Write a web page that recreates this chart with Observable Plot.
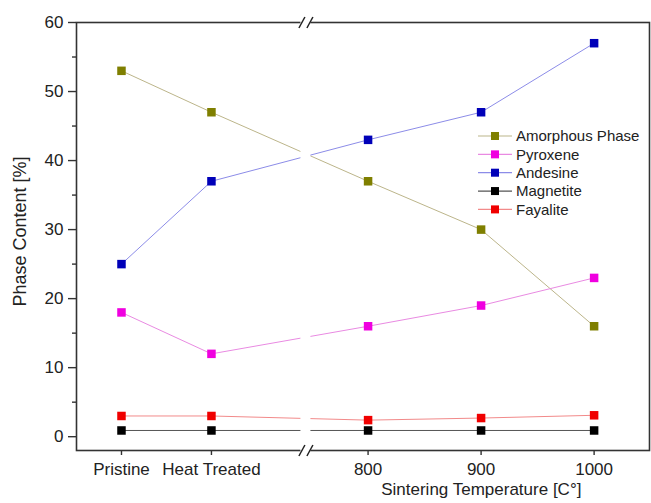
<!DOCTYPE html>
<html>
<head>
<meta charset="utf-8">
<script src="https://cdn.jsdelivr.net/npm/d3@7"></script>
<script src="https://cdn.jsdelivr.net/npm/@observablehq/plot@0.6"></script>
<style>
  body { margin: 0; background: #fff; font-family: "Liberation Sans", Arial, sans-serif; }
  #chart { position: relative; width: 651px; height: 503px; }
  #legend { position: absolute; left: 474px; top: 126px; }
</style>
</head>
<body>
<div id="chart"></div>
<script>
// Sample conditions along the (broken) x axis
const conditions = ["Pristine", "Heat Treated", "800", "900", "1000"];

// Phase content in % for each condition
const amorphous = [53, 47, 37, 30, 16];
const pyroxene  = [18, 12, 16, 19, 23];
const andesine  = [25, 37, 43, 47, 57];
const magnetite = [0.9, 0.9, 0.9, 0.9, 0.9];
const fayalite  = [3.0, 3.0, 2.4, 2.7, 3.1];

const seriesNames  = ["Amorphous Phase", "Pyroxene", "Andesine", "Magnetite", "Fayalite"];
const seriesValues = [amorphous, pyroxene, andesine, magnetite, fayalite];
const markerColors = ["#7f7f00", "#f000e0", "#0000b8", "#000000", "#f00000"];
const lineColors   = ["#bcb58a", "#e98ae2", "#8c8ce8", "#555555", "#f28a8a"];

const yTicks = [0, 10, 20, 30, 40, 50, 60];
const yMinorTicks = [5, 15, 25, 35, 45, 55];

// Broken x axis: treatments sit at unit steps on the left segment,
// sintering temperatures share one linear segment to the right of the break.
const treatments = conditions.slice(0, 2);
const BREAK = 3.05;          // axis position of the break
const T_AT_BREAK = 745;      // temperature that sits at the break
const DEG_PER_UNIT = 79.6;   // degrees per axis unit on the temperature segment
const X_MIN = 0.5;
const X_MAX = BREAK + (1049 - T_AT_BREAK) / DEG_PER_UNIT;
const Y_MIN = -2, Y_MAX = 60;

function axisPos(c) {
  const i = treatments.indexOf(c);
  return i >= 0 ? i + 1 : BREAK + (+c - T_AT_BREAK) / DEG_PER_UNIT;
}
const tickLabel = new Map(conditions.map(c => [axisPos(c), c]));

const rows = seriesNames.flatMap((name, s) =>
  conditions.map((c, i) => ({series: name, condition: c, value: seriesValues[s][i]}))
);

const W = 651, H = 503, mL = 76, mR = 2, mT = 22, mB = 53;
const pxX = (W - mL - mR) / (X_MAX - X_MIN);
const pxY = (H - mT - mB) / (Y_MAX - Y_MIN);
const gap = 5 / pxX;

// "//" break marks on the top and bottom edges of the frame
const slashes = [];
for (const edge of [Y_MAX, Y_MIN]) {
  for (const off of [-4, 4]) {
    slashes.push({
      x1: BREAK + (off - 3) / pxX, y1: edge - 5.5 / pxY,
      x2: BREAK + (off + 3) / pxX, y2: edge + 5.5 / pxY
    });
  }
}

const colorOf = new Map(seriesNames.map((n, i) => [n, markerColors[i]]));
const lineOf = new Map(seriesNames.map((n, i) => [n, lineColors[i]]));

const chart = Plot.plot({
  width: W, height: H,
  marginLeft: mL, marginRight: mR, marginTop: mT, marginBottom: mB,
  style: {fontFamily: "'Liberation Sans', Arial, sans-serif", fontSize: "17px", color: "#222", background: "#fff"},
  x: {domain: [X_MIN, X_MAX], axis: null},
  y: {domain: [Y_MIN, Y_MAX], axis: null},
  marks: [
    Plot.frame({stroke: "#333", strokeWidth: 1.6}),
    ...seriesNames.map(name =>
      Plot.line(rows.filter(d => d.series === name), {
        x: d => axisPos(d.condition), y: "value",
        stroke: lineOf.get(name), strokeWidth: 1
      })
    ),
    Plot.rect([0], {x1: BREAK - gap, x2: BREAK + gap, y1: Y_MIN, y2: Y_MAX,
      fill: "white", insetTop: -3, insetBottom: -3}),
    Plot.dot(rows, {
      x: d => axisPos(d.condition), y: "value",
      symbol: "square", r: 4.8, fill: d => colorOf.get(d.series), stroke: "none"
    }),
    Plot.link(slashes, {x1: "x1", y1: "y1", x2: "x2", y2: "y2", stroke: "#222", strokeWidth: 1.5}),
    Plot.axisY(yTicks, {anchor: "left", tickSize: 8, tickPadding: 5, label: null, stroke: "#333", strokeWidth: 1.4}),
    Plot.axisY(yMinorTicks, {anchor: "left", tickSize: 4, tickFormat: () => "", label: null, stroke: "#333", strokeWidth: 1.4}),
    Plot.axisX(conditions.map(axisPos), {
      anchor: "bottom", tickSize: 5, tickPadding: 7, label: null,
      tickFormat: v => tickLabel.get(v), stroke: "#333", strokeWidth: 1.4
    }),
    Plot.text(["Phase Content [%]"], {
      frameAnchor: "left", textAnchor: "middle", dx: -56, dy: -5, rotate: -90, fontSize: 18, fill: "#222"
    }),
    Plot.text(["Sintering Temperature [C°]"], {
      x: (BREAK + X_MAX) / 2 + 0.04, frameAnchor: "bottom",
      dy: 44, fontSize: 17, fill: "#222"
    })
  ]
});

const root = document.getElementById("chart");
root.appendChild(chart);

// Legend drawn inside the plotting area
const rowH = 18.35;
const legend = d3.select(root).append("svg")
  .attr("id", "legend")
  .attr("width", 175).attr("height", 5 * rowH + 4);
const entry = legend.selectAll("g").data(seriesNames).join("g")
  .attr("transform", (d, i) => `translate(0,${10 + i * rowH})`);
entry.append("line")
  .attr("x1", 4).attr("x2", 38).attr("y1", 0).attr("y2", 0)
  .attr("stroke", (d, i) => lineColors[i]).attr("stroke-width", 1.2);
entry.append("rect")
  .attr("x", 17).attr("y", -4).attr("width", 8).attr("height", 8)
  .attr("fill", (d, i) => markerColors[i]);
entry.append("text")
  .attr("x", 42).attr("y", 0).attr("dy", "0.35em")
  .attr("font-size", 15).attr("fill", "#222")
  .attr("font-family", "'Liberation Sans', Arial, sans-serif")
  .text(d => d);
</script>
</body>
</html>
